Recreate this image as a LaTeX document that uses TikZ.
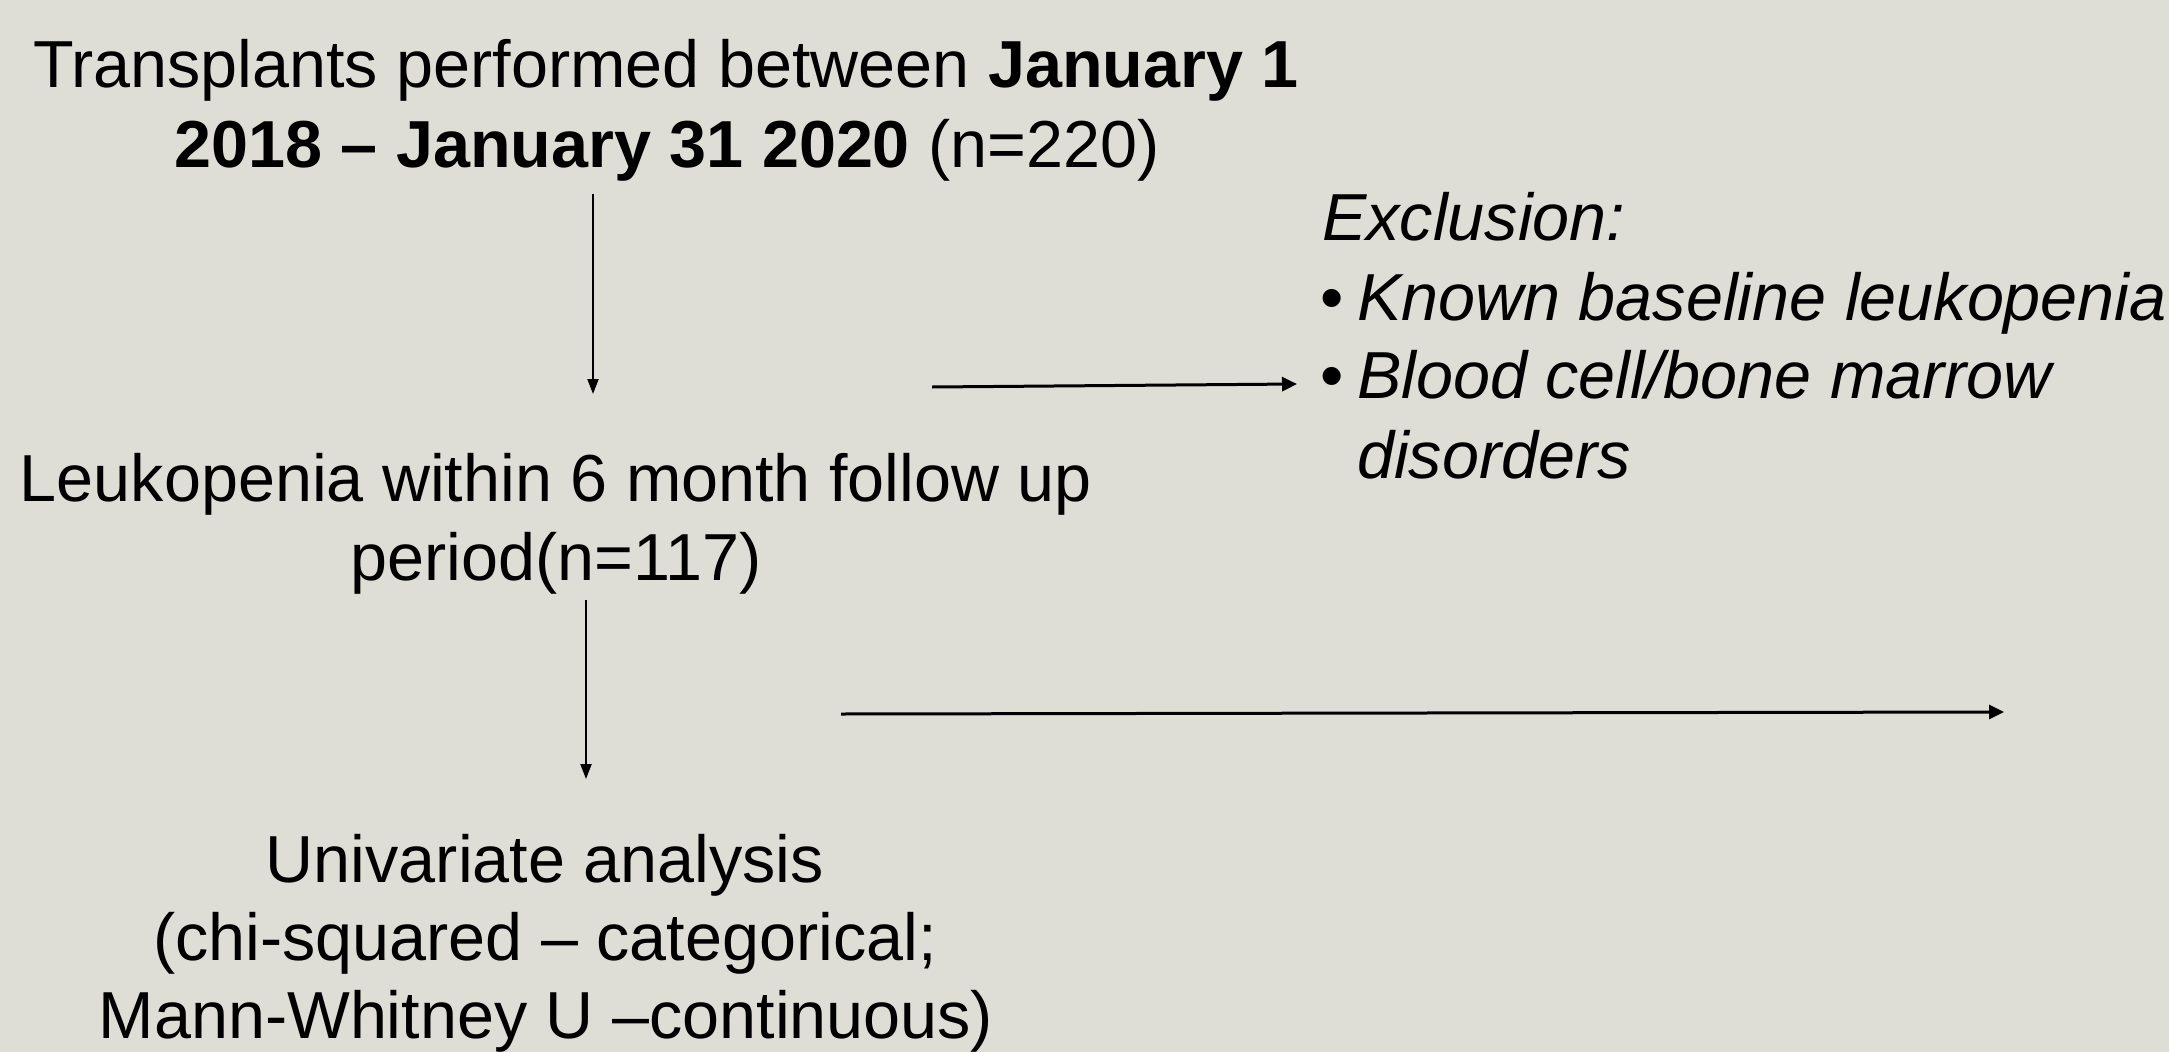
\documentclass[tikz,border=0pt]{standalone}
\usepackage{fontspec}
\setmainfont{Liberation Sans}
\usetikzlibrary{arrows.meta}
\definecolor{bgcol}{RGB}{222,222,214}
\tikzset{
  txt/.style={inner sep=0pt, anchor=base, font=\fontsize{66.5}{80}\selectfont},
  txtl/.style={txt, anchor=base west},
  vconn/.style={line width=2pt, -{Triangle[length=15pt,width=11pt]}},
  hconn/.style={line width=3pt, -{Triangle[length=15pt,width=14pt]}}
}
\begin{document}
\begin{tikzpicture}[x=1pt,y=-1pt]
\fill[bgcol] (0,0) rectangle (2169,1052);
\useasboundingbox (0,0) rectangle (2169,1052);
% title
\node[txt] (t1) at (666,87) {Transplants performed between \textbf{January 1}};
\node[txt] (t2) at (667,167) {\textbf{2018 – January 31 2020} (n=220)};
% exclusion
\node[txtl] (ex) at (1322,240) {\itshape Exclusion:};
\node[txtl] (b1) at (1320,320) {•};
\node[txtl] (e1) at (1357,320) {\itshape Known baseline leukopenia};
\node[txtl] (b2) at (1320,398) {•};
\node[txtl] (e2) at (1357,398) {\itshape Blood cell/bone marrow};
\node[txtl] (e3) at (1357,478) {\itshape disorders};
% leukopenia
\node[txt] (l1) at (556,501) {Leukopenia within 6 month follow up};
\node[txt] (l2) at (556,580) {period(n=117)};
% univariate
\node[txt] (u1) at (545,882) {Univariate analysis};
\node[txt] (u2) at (545,960) {(chi-squared – categorical;};
\node[txt] (u3) at (546,1038) {Mann-Whitney U –continuous)};
% arrow endpoints
\coordinate (a1s) at (593,194);
\coordinate (a1e) at (593,394);
\coordinate (h1s) at (932,387);
\coordinate (h1e) at (1297,384);
\coordinate (a2s) at (586,600);
\coordinate (a2e) at (586,779);
\coordinate (h2s) at (841,714);
\coordinate (h2e) at (2004,712);
\draw[vconn] (a1s) -- (a1e);
\draw[hconn] (h1s) -- (h1e);
\draw[vconn] (a2s) -- (a2e);
\draw[hconn] (h2s) -- (h2e);
\end{tikzpicture}
\end{document}
